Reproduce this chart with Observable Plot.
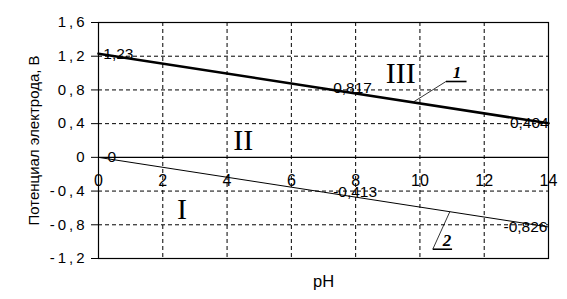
<!DOCTYPE html>
<html>
<head>
<meta charset="utf-8">
<script src="https://cdn.jsdelivr.net/npm/d3@7"></script>
<script src="https://cdn.jsdelivr.net/npm/@observablehq/plot@0.6"></script>
<style>
  html, body { margin: 0; padding: 0; background: #fff; }
  g[aria-label="y-axis tick label"] text { letter-spacing: 3px; }
  g[aria-label="datalabel"] text { letter-spacing: 1.5px; }
</style>
</head>
<body>
<div id="chart"></div>
<script>
// ---- data ----
const pH = [0, 7, 14];
const line1 = [1.23, 0.817, 0.404];      // line (1)
const line2 = [0, -0.413, -0.826];       // line (2)
const xTicks = [0, 2, 4, 6, 8, 10, 12, 14];
const yTicks = [-1.2, -0.8, -0.4, 0, 0.4, 0.8, 1.2, 1.6];

// data labels: [pH, E, text]
const labels1 = [[0.15, 1.23, "1,23"], [7.3, 0.817, "0,817"], [12.8, 0.404, "0,404"]];
const labels2 = [[0.28, 0, "0"], [7.3, -0.413, "-0,413"], [12.6, -0.826, "-0,826"]];
// region labels
const regions = [[9.4, 1.0, "III"], [4.5, 0.2, "II"], [2.6, -0.62, "I"]];
// callouts: name, text pos, leader start (on line), leader end, underline end
const callNames = ["1", "2"];
const callText = [[11.15, 1.01], [10.84, -0.985]];
const callLeadFrom = [[9.81, 0.66], [10.93, -0.645]];
const callLeadTo = [[10.81, 0.9], [10.4, -1.09]];
const callUnderEnd = [[11.45, 0.9], [11.0, -1.09]];

const comma = d => String(d).replace(".", ",");

const series1 = pH.map((x, i) => ({x, y: line1[i]}));
const series2 = pH.map((x, i) => ({x, y: line2[i]}));
const leaders = callNames.map((n, i) => ({x1: callLeadFrom[i][0], y1: callLeadFrom[i][1], x2: callLeadTo[i][0], y2: callLeadTo[i][1]}));
const unders = callNames.map((n, i) => ({x1: callLeadTo[i][0], y1: callLeadTo[i][1], x2: callUnderEnd[i][0], y2: callUnderEnd[i][1]}));

const serif = "'Liberation Serif', 'Times New Roman', serif";

const plot = Plot.plot({
  width: 567,
  height: 299,
  marginLeft: 98,
  marginRight: 19,
  marginTop: 22,
  marginBottom: 41,
  style: {fontFamily: "'Liberation Sans', Arial, sans-serif", fontSize: "15px", background: "#fff", color: "#000"},
  x: {domain: [0, 14], axis: null},
  y: {domain: [-1.2, 1.6]},
  marks: [
    Plot.gridX(xTicks.filter(d => d > 0 && d < 14), {stroke: "#000", strokeOpacity: 1, strokeDasharray: "4,3"}),
    Plot.gridY(yTicks.filter(d => d !== 0 && d > -1.2 && d < 1.6), {stroke: "#000", strokeOpacity: 1, strokeDasharray: "4,3"}),
    Plot.ruleY([0], {stroke: "#000", strokeWidth: 1.2}),
    Plot.frame({stroke: "#000", strokeWidth: 1.2}),
    Plot.axisY(yTicks, {tickFormat: comma, tickSize: 7, tickPadding: 4, fontSize: 15,
      label: "Потенциал электрода, В", labelAnchor: "center", labelArrow: "none", labelOffset: 70}),
    Plot.text(xTicks, {x: d => d, y: 0, dy: 24, text: d => String(d), fontSize: 16}),
    Plot.text(["pH"], {frameAnchor: "bottom", dy: 28, fontSize: 16.5}),
    Plot.line(series1, {x: "x", y: "y", stroke: "#000", strokeWidth: 2.6}),
    Plot.line(series2, {x: "x", y: "y", stroke: "#000", strokeWidth: 1}),
    Plot.text(labels1.concat(labels2), {x: d => d[0], y: d => d[1], text: d => d[2], textAnchor: "start",
      fontSize: 15.5, ariaLabel: "datalabel"}),
    Plot.text(regions, {x: d => d[0], y: d => d[1], text: d => d[2], fontSize: 30, fontFamily: serif}),
    Plot.link(leaders, {x1: "x1", y1: "y1", x2: "x2", y2: "y2", stroke: "#000", strokeWidth: 0.8}),
    Plot.link(unders, {x1: "x1", y1: "y1", x2: "x2", y2: "y2", stroke: "#000", strokeWidth: 1.6}),
    Plot.text(callNames, {x: (d, i) => callText[i][0], y: (d, i) => callText[i][1], text: d => d, fontSize: 17,
      fontWeight: "bold", fontStyle: "italic", fontFamily: serif})
  ]
});
document.getElementById("chart").appendChild(plot);
</script>
</body>
</html>
